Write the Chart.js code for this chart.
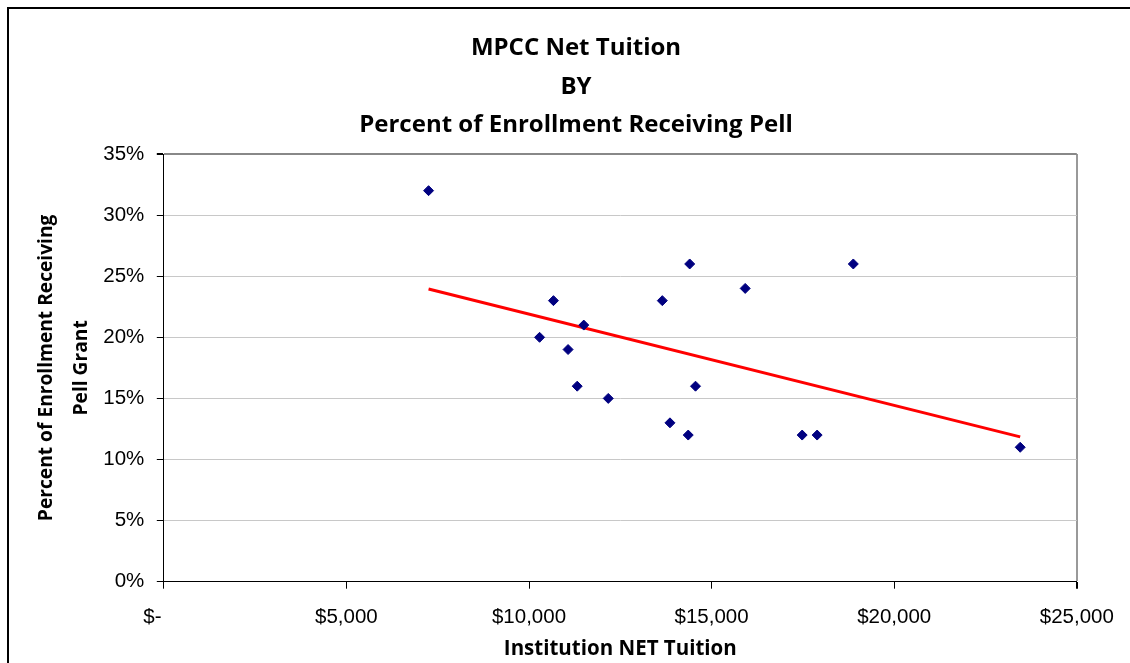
<!DOCTYPE html>
<html>
<head>
<meta charset="utf-8">
<script src="https://cdn.jsdelivr.net/npm/chart.js@4"></script>
<style>
  html, body { margin: 0; padding: 0; background: #fff; }
  #wrap { position: relative; width: 1130px; height: 663px; overflow: hidden; }
  #frame { position: absolute; left: 7px; top: 7px; width: 1200px; height: 700px;
           border-left: 2px solid #000; border-top: 2px solid #000; pointer-events: none; }
  canvas { position: absolute; left: 0; top: 0; }
</style>
</head>
<body>
<div id="wrap">
  <canvas id="chart" width="1130" height="663"></canvas>
  <div id="frame"></div>
</div>
<script>
// Net tuition per institution ($) and share of enrollment receiving Pell
const netTuition = [7250, 10670, 10290, 11500, 11070, 11320, 12170, 13650, 13860,
                    14400, 14360, 14560, 15920, 17480, 17890, 18880, 23450];
const pellShare = [0.32, 0.23, 0.20, 0.21, 0.19, 0.16, 0.15, 0.23, 0.13,
                   0.26, 0.12, 0.16, 0.24, 0.12, 0.12, 0.26, 0.11];

const titleLines = ['MPCC Net Tuition', 'BY', 'Percent of Enrollment Receiving Pell'];
const xTitle = 'Institution NET Tuition';
const yTitle = ['Percent of Enrollment Receiving', 'Pell Grant'];

// least squares trend line
function linearFit(xs, ys) {
  const n = xs.length;
  const mx = xs.reduce((a, b) => a + b, 0) / n;
  const my = ys.reduce((a, b) => a + b, 0) / n;
  let sxy = 0, sxx = 0;
  for (let i = 0; i < n; i++) {
    sxy += (xs[i] - mx) * (ys[i] - my);
    sxx += (xs[i] - mx) * (xs[i] - mx);
  }
  const slope = sxy / sxx;
  return { slope, intercept: my - slope * mx };
}

const fit = linearFit(netTuition, pellShare);
const xMin = Math.min(...netTuition);
const xMax = Math.max(...netTuition);
const trend = [xMin, xMax].map(x => ({ x, y: fit.intercept + fit.slope * x }));

const points = netTuition.map((x, i) => ({ x, y: pellShare[i] }));

const tickFont = { family: "'Liberation Sans', Arial, sans-serif", size: 20.5 };
const boldFont = { family: "'Open Sans', Lato, sans-serif", weight: 'bold' };

new Chart(document.getElementById('chart'), {
  type: 'scatter',
  data: {
    datasets: [
      {
        label: 'Institutions',
        data: points,
        pointStyle: 'rectRot',
        pointRadius: 5,
        pointHoverRadius: 5,
        backgroundColor: '#000080',
        borderColor: '#000080',
        borderWidth: 1
      },
      {
        type: 'line',
        label: 'Linear',
        data: trend,
        borderColor: '#ff0000',
        borderWidth: 3,
        pointRadius: 0,
        fill: false
      }
    ]
  },
  options: {
    responsive: false,
    animation: false,
    layout: { padding: { left: 22, right: 0, top: 0, bottom: 0 } },
    plugins: {
      legend: { display: false },
      tooltip: { enabled: false },
      title: {
        display: true,
        text: titleLines,
        color: '#000',
        font: { ...boldFont, size: 24, lineHeight: '38.5px' },
        padding: { top: 29, bottom: 9.5 }
      }
    },
    scales: {
      x: {
        type: 'linear',
        min: 0,
        max: 25000,
        afterFit: s => { s.height = 81.3; },
        ticks: {
          stepSize: 5000,
          color: '#000',
          font: tickFont,
          padding: 16,
          maxRotation: 0,
          callback: v => v === 0 ? '$-    ' : '$' + v.toLocaleString('en-US')
        },
        grid: {
          color: c => c.tick && c.tick.value === 25000 ? '#999' : 'rgba(0,0,0,0)',
          lineWidth: c => c.tick && c.tick.value === 25000 ? 2 : 1,
          tickColor: '#000',
          tickLength: 7
        },
        border: { color: '#000', width: 1 },
        title: {
          display: true,
          text: xTitle,
          color: '#000',
          font: { ...boldFont, size: 20.5 },
          padding: { top: 0, bottom: 2 }
        }
      },
      y: {
        min: 0,
        max: 0.35,
        afterFit: s => { s.width = 141.8; },
        ticks: {
          stepSize: 0.05,
          color: '#000',
          font: tickFont,
          padding: 12.5,
          callback: v => Math.round(v * 100) + '%'
        },
        grid: {
          color: c => c.tick && Math.abs(c.tick.value - 0.35) < 1e-9 ? '#888' : '#c8c8c8',
          lineWidth: c => c.tick && Math.abs(c.tick.value - 0.35) < 1e-9 ? 2 : 1,
          tickColor: '#000',
          tickLength: 7
        },
        border: { color: '#000', width: 1 },
        title: {
          display: true,
          text: yTitle,
          color: '#000',
          font: { ...boldFont, size: 19.2, lineHeight: '35px' },
          padding: { top: 7.5, bottom: 0 }
        }
      },
      // empty right-hand axis that only reserves the margin right of the plot
      yRight: {
        position: 'right',
        min: 0,
        max: 0.35,
        afterFit: s => { s.width = 53.2; },
        ticks: { display: false },
        grid: { display: false },
        border: { display: false }
      }
    }
  }
});
</script>
</body>
</html>
